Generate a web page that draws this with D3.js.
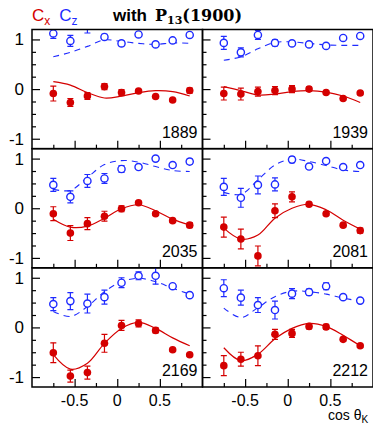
<!DOCTYPE html>
<html>
<head>
<meta charset="utf-8">
<script src="https://cdn.jsdelivr.net/npm/d3@7"></script>
<style>
  html, body { margin: 0; padding: 0; background: #fff; }
  svg { display: block; }
  text { font-family: "Liberation Sans", Arial, sans-serif; }
</style>
</head>
<body>
<div id="chart"></div>
<script>
// Angular bins (cos θ_K) shared by every energy panel
const cosTheta = [-0.75, -0.55, -0.35, -0.15, 0.05, 0.25, 0.45, 0.65, 0.85];

// Beam energies (MeV), panel order: row by row, left to right
const energies = ["1889", "1939", "2035", "2081", "2169", "2212"];

// Measured C_x and its uncertainty
const cxValues = [
  [-0.09, -0.27, -0.14, 0.05, -0.07, -0.04, -0.15, -0.22, -0.03],
  [-0.09, -0.10, -0.05, -0.03, 0.00, 0.00, -0.07, -0.19, -0.08],
  [-0.11, -0.50, -0.31, -0.16, -0.01, 0.11, -0.11, -0.25, -0.34],
  [-0.38, -0.62, -0.96, -0.05, 0.23, 0.08, -0.11, -0.34, -0.45],
  [-0.51, -0.98, -0.91, -0.32, 0.04, 0.08, -0.06, -0.45, -0.55],
  [-0.77, -0.64, -0.57, -0.14, -0.12, 0.02, 0.01, -0.24, -0.37]
];
const cxErrors = [
  [0.15, 0.08, 0.07, 0.06, 0.06, 0.03, 0.02, 0.02, 0.05],
  [0.13, 0.12, 0.09, 0.08, 0.07, 0.04, 0.03, 0.02, 0.03],
  [0.14, 0.15, 0.12, 0.10, 0.06, 0.03, 0.03, 0.03, 0.05],
  [0.20, 0.20, 0.20, 0.14, 0.10, 0.04, 0.03, 0.03, 0.05],
  [0.20, 0.12, 0.13, 0.18, 0.10, 0.07, 0.05, 0.03, 0.03],
  [0.20, 0.14, 0.20, 0.10, 0.08, 0.05, 0.05, 0.03, 0.03]
];

// Measured C_z and its uncertainty
const czValues = [
  [1.12, 0.97, 1.30, 1.05, 0.92, 1.10, 0.90, 0.98, 1.09],
  [0.93, 0.74, 1.09, 0.93, 0.92, 0.90, 0.87, 1.03, 1.07],
  [0.47, 0.23, 0.55, 0.60, 0.79, 0.83, 1.00, 0.87, 0.94],
  [0.43, 0.21, 0.47, 0.48, 0.98, 0.84, 0.95, 0.83, 0.87],
  [0.47, 0.53, 0.48, 0.61, 0.90, 1.04, 1.04, 0.83, 0.65],
  [0.79, 0.60, 0.45, 0.35, 0.68, 0.71, 0.83, 0.61, 0.54]
];
const czErrors = [
  [0.10, 0.11, 0.17, 0.05, 0.05, 0.04, 0.03, 0.03, 0.05],
  [0.13, 0.09, 0.09, 0.06, 0.04, 0.03, 0.03, 0.03, 0.03],
  [0.13, 0.12, 0.13, 0.10, 0.07, 0.03, 0.03, 0.03, 0.05],
  [0.17, 0.19, 0.18, 0.13, 0.06, 0.04, 0.03, 0.03, 0.03],
  [0.13, 0.17, 0.19, 0.14, 0.10, 0.08, 0.17, 0.03, 0.03],
  [0.17, 0.15, 0.15, 0.18, 0.10, 0.06, 0.07, 0.03, 0.03]
];

// Model predictions including P13(1900), sampled at the same angles
const cxModel = [
  [0.15, 0.08, -0.07, -0.18, -0.14, -0.07, -0.03, -0.05, -0.14],
  [0.05, -0.03, -0.12, -0.10, -0.05, -0.03, -0.06, -0.14, -0.27],
  [-0.22, -0.38, -0.36, -0.20, -0.01, 0.07, -0.05, -0.22, -0.34],
  [-0.40, -0.62, -0.54, -0.20, 0.00, 0.08, -0.03, -0.24, -0.42],
  [-0.55, -0.84, -0.72, -0.32, -0.02, 0.10, -0.02, -0.21, -0.37],
  [-0.41, -0.67, -0.54, -0.23, -0.02, 0.08, 0.02, -0.16, -0.37]
];
const czModel = [
  [0.65, 0.74, 0.86, 0.99, 0.96, 0.92, 0.90, 0.93, 0.92],
  [0.58, 0.65, 0.81, 0.94, 0.95, 0.92, 0.89, 0.88, 0.88],
  [0.38, 0.36, 0.62, 0.88, 0.96, 0.93, 0.84, 0.76, 0.74],
  [0.32, 0.28, 0.57, 0.87, 0.99, 0.94, 0.86, 0.77, 0.74],
  [0.32, 0.22, 0.42, 0.72, 0.92, 0.99, 0.92, 0.79, 0.67],
  [0.39, 0.20, 0.40, 0.62, 0.73, 0.72, 0.67, 0.59, 0.53]
];

const yMajor = [-1, 0, 1];
const yMinor = [-0.75, -0.5, -0.25, 0.25, 0.5, 0.75];
const xMajor = [-0.5, 0, 0.5];
const xMinor = [-0.75, -0.25, 0.25, 0.75];

const W = 373, H = 425;
const frameLeft = 32, frameTop = 29.5, frameBottom = 387;
const colW = 170.5;
const rowH = (frameBottom - frameTop) / 3;
const RED = "#d40000", BLUE = "#1f2bff";

const svg = d3.select("#chart").append("svg")
  .attr("width", W).attr("height", H);

const x = d3.scaleLinear().domain([-1, 1]).range([0, colW]);
const y = d3.scaleLinear().domain([-1.2, 1.2]).range([rowH, 0]);

const curve = d3.line()
  .x((d, i) => x(cosTheta[i]))
  .y(d => y(d))
  .curve(d3.curveCatmullRom.alpha(0.5));

energies.forEach((energy, p) => {
  const col = p % 2, row = Math.floor(p / 2);
  const g = svg.append("g")
    .attr("transform", `translate(${frameLeft + col * colW},${frameTop + row * rowH})`);

  const clipId = "clip" + p;
  g.append("clipPath").attr("id", clipId)
    .append("rect").attr("width", colW).attr("height", rowH);

  // tick marks pointing inward
  const yMaj = g.append("g").call(d3.axisLeft(y).tickValues(yMajor).tickSize(-8).tickFormat(""));
  const yMin = g.append("g").call(d3.axisLeft(y).tickValues(yMinor).tickSize(-4).tickFormat(""));
  const xMaj = g.append("g").attr("transform", `translate(0,${rowH})`)
    .call(d3.axisBottom(x).tickValues(xMajor).tickSize(-8).tickFormat(""));
  const xMin = g.append("g").attr("transform", `translate(0,${rowH})`)
    .call(d3.axisBottom(x).tickValues(xMinor).tickSize(-4).tickFormat(""));
  [yMaj, yMin, xMaj, xMin].forEach(a => {
    a.select(".domain").remove();
    a.selectAll("line").attr("stroke", "#000").attr("stroke-width", 1.2);
  });

  // tick labels on the outer axes only
  if (col === 0) {
    g.append("g").selectAll("text").data(yMajor).join("text")
      .attr("x", -8).attr("y", d => y(d) + 6)
      .attr("text-anchor", "end").attr("font-size", 17)
      .text(d => d === -1 ? "-1" : String(d));
  }
  if (row === 2) {
    g.append("g").selectAll("text").data(xMajor).join("text")
      .attr("x", d => x(d)).attr("y", rowH + 19)
      .attr("text-anchor", "middle").attr("font-size", 16)
      .text(d => d === 0 ? "0" : String(d));
  }

  const plot = g.append("g").attr("clip-path", `url(#${clipId})`);

  // model curves
  plot.append("path").datum(czModel[p])
    .attr("d", curve).attr("fill", "none")
    .attr("stroke", BLUE).attr("stroke-width", 1.1)
    .attr("stroke-dasharray", "6,5");
  plot.append("path").datum(cxModel[p])
    .attr("d", curve).attr("fill", "none")
    .attr("stroke", RED).attr("stroke-width", 1.2);

  // error bars with caps
  function errorBars(values, errors, color) {
    const eb = plot.append("g").attr("stroke", color).attr("stroke-width", 1.2);
    values.forEach((v, i) => {
      const cx = x(cosTheta[i]);
      const y0 = y(v - errors[i]), y1 = y(v + errors[i]);
      eb.append("line").attr("x1", cx).attr("x2", cx).attr("y1", y0).attr("y2", y1);
      eb.append("line").attr("x1", cx - 3).attr("x2", cx + 3).attr("y1", y0).attr("y2", y0);
      eb.append("line").attr("x1", cx - 3).attr("x2", cx + 3).attr("y1", y1).attr("y2", y1);
    });
  }
  errorBars(czValues[p], czErrors[p], BLUE);
  errorBars(cxValues[p], cxErrors[p], RED);

  plot.append("g").selectAll("circle").data(czValues[p]).join("circle")
    .attr("cx", (d, i) => x(cosTheta[i])).attr("cy", d => y(d))
    .attr("r", 3.6).attr("fill", "#fff")
    .attr("stroke", BLUE).attr("stroke-width", 1.4);
  plot.append("g").selectAll("circle").data(cxValues[p]).join("circle")
    .attr("cx", (d, i) => x(cosTheta[i])).attr("cy", d => y(d))
    .attr("r", 3.8).attr("fill", RED);

  // energy label
  g.append("text")
    .attr("x", colW - 5).attr("y", rowH - 11)
    .attr("text-anchor", "end").attr("font-size", 16)
    .text(energy);

  // frame
  g.append("rect").attr("width", colW).attr("height", rowH)
    .attr("fill", "none").attr("stroke", "#000").attr("stroke-width", 1.5);
});

// title: C_x C_z with P13(1900)
const title = svg.append("text").attr("y", 21).attr("font-size", 17);
title.append("tspan").attr("x", 32).attr("fill", RED).text("C");
title.append("tspan").attr("fill", RED).attr("font-size", 12).attr("dy", 4).text("x");
title.append("tspan").attr("fill", BLUE).attr("dx", 9).attr("dy", -4).text("C");
title.append("tspan").attr("fill", BLUE).attr("font-size", 12).attr("dy", 4).text("z");

const t2 = svg.append("text").attr("y", 21).attr("font-size", 17).attr("font-weight", "bold");
t2.append("tspan").attr("x", 113).text("with");
t2.append("tspan").attr("dx", 8).attr("font-family", "'DejaVu Serif', serif").attr("font-size", 16).text("P");
t2.append("tspan").attr("font-family", "'DejaVu Serif', serif").attr("font-size", 11).attr("dy", 3).text("13");
t2.append("tspan").attr("font-family", "'DejaVu Serif', serif").attr("font-size", 16).attr("dy", -3).text("(1900)");

// axis title
const xt = svg.append("text").attr("x", 328).attr("y", 420).attr("font-size", 14);
xt.append("tspan").text("cos θ");
xt.append("tspan").attr("font-size", 10).attr("dy", 3).text("K");
</script>
</body>
</html>
